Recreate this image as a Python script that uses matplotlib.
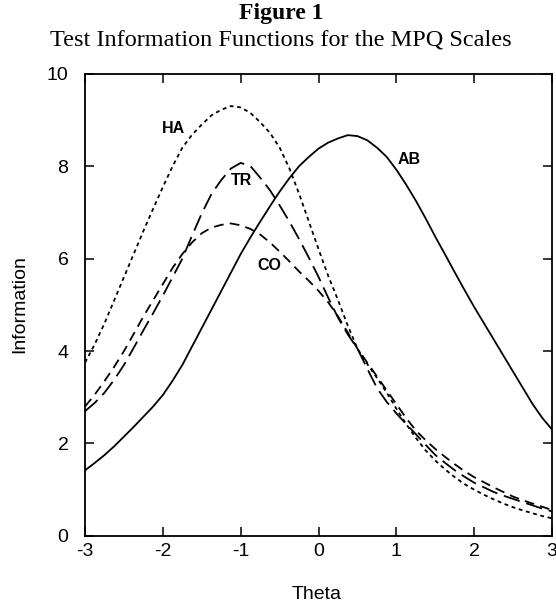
import matplotlib
matplotlib.use("Agg")
import matplotlib.pyplot as plt

# ---- data ----
theta = [-3.0, -2.875, -2.75, -2.625, -2.5, -2.375, -2.25, -2.125, -2.0, -1.875,
         -1.75, -1.625, -1.5, -1.375, -1.25, -1.125, -1.0, -0.875, -0.75, -0.625,
         -0.5, -0.375, -0.25, -0.125, 0.0, 0.125, 0.25, 0.375, 0.5, 0.625,
         0.75, 0.875, 1.0, 1.125, 1.25, 1.375, 1.5, 1.625, 1.75, 1.875,
         2.0, 2.125, 2.25, 2.375, 2.5, 2.625, 2.75, 2.875, 3.0]

info_AB = [1.42, 1.58, 1.75, 1.94, 2.15, 2.36, 2.58, 2.80, 3.05, 3.36,
           3.70, 4.10, 4.50, 4.90, 5.30, 5.70, 6.10, 6.46, 6.80, 7.13,
           7.45, 7.74, 8.00, 8.20, 8.38, 8.51, 8.60, 8.67, 8.65, 8.56,
           8.40, 8.20, 7.92, 7.60, 7.25, 6.87, 6.47, 6.09, 5.70, 5.32,
           4.95, 4.60, 4.25, 3.90, 3.55, 3.20, 2.85, 2.55, 2.30]

info_HA = [3.75, 4.15, 4.60, 5.10, 5.60, 6.10, 6.60, 7.08, 7.55, 8.00,
           8.40, 8.68, 8.90, 9.10, 9.22, 9.30, 9.27, 9.15, 8.95, 8.72,
           8.40, 7.95, 7.40, 6.80, 6.20, 5.62, 5.10, 4.55, 4.05, 3.72,
           3.42, 3.10, 2.75, 2.42, 2.12, 1.85, 1.63, 1.44, 1.27, 1.12,
           1.00, 0.89, 0.79, 0.70, 0.62, 0.55, 0.49, 0.43, 0.38]

info_TR = [2.70, 2.88, 3.10, 3.38, 3.70, 4.07, 4.45, 4.82, 5.20, 5.60,
           6.00, 6.50, 6.98, 7.40, 7.70, 7.95, 8.07, 8.00, 7.75, 7.48,
           7.15, 6.80, 6.42, 6.02, 5.60, 5.15, 4.72, 4.36, 4.05, 3.62,
           3.20, 2.90, 2.65, 2.42, 2.20, 1.97, 1.75, 1.58, 1.42, 1.28,
           1.15, 1.05, 0.95, 0.87, 0.80, 0.73, 0.66, 0.59, 0.53]

info_CO = [2.80, 3.06, 3.35, 3.66, 4.00, 4.37, 4.75, 5.10, 5.45, 5.80,
           6.10, 6.35, 6.55, 6.67, 6.73, 6.76, 6.72, 6.64, 6.52, 6.35,
           6.15, 5.94, 5.72, 5.52, 5.30, 5.05, 4.75, 4.40, 4.05, 3.75,
           3.45, 3.15, 2.85, 2.55, 2.28, 2.07, 1.88, 1.71, 1.55, 1.40,
           1.27, 1.16, 1.05, 0.95, 0.85, 0.77, 0.70, 0.63, 0.56]

labels = ["AB", "HA", "TR", "CO"]
label_pos_theta = [1.16, -1.87, -0.99, -0.63]
label_pos_info = [8.15, 8.81, 7.68, 5.85]

xticks = [-3, -2, -1, 0, 1, 2, 3]
yticks = [0, 2, 4, 6, 8, 10]

# ---- styling ----
plt.rcParams['lines.scale_dashes'] = False
plt.rcParams['axes.unicode_minus'] = False
sans = ['Liberation Sans', 'DejaVu Sans']
serif = ['Liberation Serif', 'DejaVu Serif']

fig = plt.figure(figsize=(5.56, 6.09), dpi=100)
ax = fig.add_axes([0.153, 0.120, 0.840, 0.759])

lw = 1.3
ax.plot(theta, info_AB, color='black', lw=lw, linestyle='-')
ax.plot(theta, info_HA, color='black', lw=lw, linestyle=(0, (2.8, 2.6)))
ax.plot(theta, info_TR, color='black', lw=lw, linestyle=(0, (12, 5)))
ax.plot(theta, info_CO, color='black', lw=lw, linestyle=(0, (7, 4.5)))

for lab, tx, ty in zip(labels, label_pos_theta, label_pos_info):
    ax.text(tx, ty, lab, fontsize=11.5, fontweight='bold', family=sans,
            ha='center', va='center')

ax.set_xlim(-3, 3)
ax.set_ylim(0, 10)
ax.set_xticks(xticks)
ax.set_yticks(yticks)
ax.set_xticklabels([str(t) for t in xticks], family=sans, fontsize=14)
ax.set_yticklabels([str(t) for t in yticks], family=sans, fontsize=14)
ax.tick_params(direction='in', length=6.5, width=1.1, top=True, right=True)
ax.tick_params(axis='x', pad=5)
ax.tick_params(axis='y', pad=12)
for s in ax.spines.values():
    s.set_linewidth(1.3)

fig.text(0.036, 0.5, "Information", rotation=90, family=sans, fontsize=14,
         ha='center', va='center')
fig.text(0.570, 0.023, "Theta", family=sans, fontsize=14, ha='center', va='center')

fig.text(0.505, 0.978, "Figure 1", family=serif, fontsize=17, fontweight='bold',
         ha='center', va='center')
fig.text(0.505, 0.934, "Test Information Functions for the MPQ Scales", family=serif,
         fontsize=17.5, ha='center', va='center')

fig.savefig("out.png", dpi=100)
